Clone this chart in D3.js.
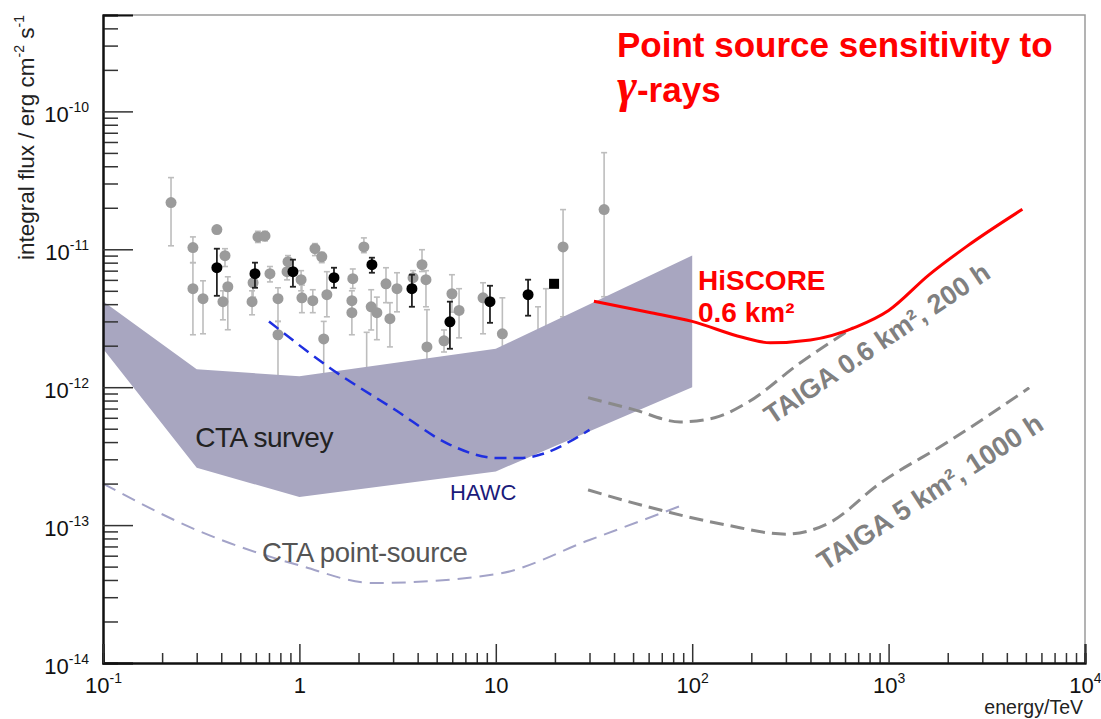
<!DOCTYPE html>
<html><head><meta charset="utf-8">
<script src="https://cdn.jsdelivr.net/npm/d3@7"></script>
<style>
body{margin:0;background:#fff;}
svg{display:block;font-family:Arial,"Liberation Sans",sans-serif;}
</style></head>
<body><svg id="c" width="1101" height="719"></svg>
<script>
// ---- data ----
const xMajor = [0.1, 1, 10, 100, 1000, 10000];
const xMajorLabels = [["10","-1"],["1",""],["10",""],["10","2"],["10","3"],["10","4"]];
const yMajor = [1e-14, 1e-13, 1e-12, 1e-11, 1e-10];
const yMajorLabels = [["10","-14"],["10","-13"],["10","-12"],["10","-11"],["10","-10"]];

// CTA survey band
const surveyE   = [0.1, 0.3, 1, 10, 100];
const surveyHi  = [4.2e-12, 1.35e-12, 1.2e-12, 1.9e-12, 9.0e-12];
const surveyLo  = [1.9e-12, 2.6e-13, 1.6e-13, 2.45e-13, 1.0e-12];

// CTA point-source
const ctaPsE = [0.1, 0.3, 1, 2.4, 10, 30, 90];
const ctaPsF = [2.0e-13, 9.2e-14, 5.1e-14, 3.8e-14, 4.4e-14, 7.8e-14, 1.4e-13];

// HAWC
const hawcE = [0.7, 1.43, 3.07, 5.85, 10, 13.3, 30];
const hawcF = [3.0e-12, 1.38e-12, 6.86e-13, 3.82e-13, 3.07e-13, 3.07e-13, 4.9e-13];

// HiSCORE 0.6 km2
const hiscoreE = [31.6, 60, 100, 180, 250, 400, 690, 1000, 1600, 2500, 4800];
const hiscoreF = [4.2e-12, 3.5e-12, 3.0e-12, 2.3e-12, 2.1e-12, 2.2e-12, 2.75e-12, 3.6e-12, 6.5e-12, 1.05e-11, 1.95e-11];

// TAIGA 0.6 km2, 200 h
const taiga06E = [29.5, 50, 87, 130, 190, 354, 660];
const taiga06F = [8.4e-13, 6.9e-13, 5.6e-13, 6.0e-13, 7.7e-13, 1.5e-12, 2.7e-12];

// TAIGA 5 km2, 1000 h
const taiga5E = [29.5, 59, 150, 300, 500, 900, 2000, 5200];
const taiga5F = [1.8e-13, 1.36e-13, 1.0e-13, 8.6e-14, 1.04e-13, 2.0e-13, 4.0e-13, 9.9e-13];

// measured sources (gray)
const grayE  = [0.222,0.287,0.287,0.323,0.380,0.418,0.432,0.408,0.615,0.668,0.581,0.574,0.708,0.778,0.778,0.875,0.865,1.02,1.03,1.20,1.30,1.17,1.38,1.33,1.87,1.85,1.85,2.13,2.32,2.48,2.76,2.89,3.14,3.79,4.21,4.41,4.46,5.98,5.45,6.5,8.61,10.8,22.0,35.6,2.2,16.4,18.0];
const grayF  = [2.18e-11,1.03e-11,5.18e-12,4.38e-12,1.39e-11,8.99e-12,5.35e-12,4.17e-12,1.23e-11,1.25e-11,5.72e-12,4.17e-12,6.65e-12,4.38e-12,2.40e-12,8.13e-12,6.88e-12,6.02e-12,4.45e-12,1.01e-11,8.83e-12,4.24e-12,4.69e-12,2.24e-12,6.12e-12,4.24e-12,3.47e-12,1.04e-11,3.83e-12,3.47e-12,5.62e-12,3.14e-12,5.18e-12,6.22e-12,7.73e-12,6.02e-12,1.96e-12,4.76e-12,2.17e-12,3.6e-12,4.45e-12,2.44e-12,1.04e-11,1.94e-11,1.05e-12,2.3e-12,2.5e-12];
const grayLo = [1.06e-11,8.0e-12,2.40e-12,2.44e-12,1.30e-11,7.5e-12,2.61e-12,3.08e-12,1.12e-11,1.15e-11,4.5e-12,3.35e-12,5.8e-12,3.0e-12,1.19e-12,7.3e-12,6.0e-12,5.0e-12,3.47e-12,9.0e-12,8.0e-12,3.47e-12,3.24e-12,1.12e-12,5.2e-12,3.5e-12,2.40e-12,9.45e-12,2.6e-12,2.21e-12,4.1e-12,1.96e-12,3.52e-12,5.5e-12,6.9e-12,3.83e-12,1.0e-12,3.5e-12,1.8e-12,2.28e-12,2.44e-12,1.9e-12,3.24e-12,4.53e-12,1.0e-12,2.3e-12,2.5e-12];
const grayHi = [3.31e-11,1.23e-11,8.0e-12,5.91e-12,1.48e-11,1.01e-11,6.32e-12,5.0e-12,1.35e-11,1.35e-11,7.0e-12,5.0e-12,7.5e-12,5.26e-12,3.0e-12,9.0e-12,7.8e-12,7.0e-12,5.5e-12,1.1e-11,9.5e-12,5.09e-12,6.88e-12,3.0e-12,7.2e-12,5.0e-12,4.2e-12,1.21e-11,5.09e-12,4.5e-12,7.35e-12,4.1e-12,6.76e-12,7.0e-12,9.93e-12,7.0e-12,3.65e-12,6.54e-12,2.6e-12,5.18e-12,5.72e-12,4.45e-12,1.94e-11,5.02e-11,2.5e-12,3.83e-12,5.18e-12];

// measured sources (black)
const blackE  = [0.380,0.594,0.927,1.50,2.34,3.74,5.84,9.34,14.6];
const blackF  = [7.35e-12,6.65e-12,6.88e-12,6.22e-12,7.73e-12,5.18e-12,2.98e-12,4.17e-12,4.69e-12];
const blackLo = [4.60e-12,5.26e-12,5.35e-12,5.26e-12,6.76e-12,3.83e-12,1.9e-12,2.93e-12,3.30e-12];
const blackHi = [1.01e-11,8.0e-12,8.41e-12,7.35e-12,8.69e-12,6.54e-12,4.17e-12,5.44e-12,6.02e-12];
const squareE = [19.8];
const squareF = [5.62e-12];

// ---- chart ----
const L = 103, R = 1085, T = 15, B = 663;
const svg = d3.select("#c");
const x = d3.scaleLog().domain([0.1, 1e4]).range([L, R]);
const y = d3.scaleLog().domain([1e-14, 5e-10]).range([B, T]);

const minorOf = (majors, top) => {
  const out = [];
  majors.forEach(d => { for (let k = 2; k <= 9; k++) { const v = d * k; if (v <= top) out.push(v); } });
  return out;
};
const xMinor = minorOf(xMajor.slice(0, -1), 1e4);
const yMinor = minorOf([1e-14,1e-13,1e-12,1e-11,1e-10], 5e-10);

// frame (top/right gray)
svg.append("path").attr("d", `M${L},${T}H${R}V${B}`).attr("fill","none").attr("stroke","#9a9a9a").attr("stroke-width",1.5);

// points
const gPts = svg.append("g");
function errBars(E, Lo, Hi, color, w) {
  E.forEach((e, i) => {
    const cx = x(e);
    gPts.append("line").attr("x1",cx).attr("x2",cx).attr("y1",y(Lo[i])).attr("y2",y(Hi[i])).attr("stroke",color).attr("stroke-width",w);
    [Lo[i], Hi[i]].forEach(v => gPts.append("line").attr("x1",cx-3).attr("x2",cx+3).attr("y1",y(v)).attr("y2",y(v)).attr("stroke",color).attr("stroke-width",w));
  });
}
errBars(grayE, grayLo, grayHi, "#bdbdbd", 1.6);
gPts.selectAll("circle.g").data(grayE).join("circle").attr("class","g")
  .attr("cx", d => x(d)).attr("cy", (d,i) => y(grayF[i])).attr("r", 5.5).attr("fill", "#9b9b9b");
errBars(blackE, blackLo, blackHi, "#222", 1.8);
gPts.selectAll("circle.b").data(blackE).join("circle").attr("class","b")
  .attr("cx", d => x(d)).attr("cy", (d,i) => y(blackF[i])).attr("r", 5.5).attr("fill", "#000");
gPts.selectAll("rect.sq").data(squareE).join("rect").attr("class","sq")
  .attr("x", d => x(d)-5).attr("y", (d,i) => y(squareF[i])-5).attr("width",10).attr("height",10).attr("fill","#000");

// CTA survey band
const band = surveyE.map((e,i)=>[e, surveyHi[i]]).concat(surveyE.map((e,i)=>[e, surveyLo[i]]).reverse());
svg.append("path").attr("d", d3.line().x(d=>x(d[0])).y(d=>y(d[1]))(band) + "Z").attr("fill","#a8a6c0");

const curve = (E, F) => d3.line().curve(d3.curveMonotoneX).x(d=>x(d)).y((d,i)=>y(F[i]))(E);
svg.append("path").attr("d", curve(ctaPsE, ctaPsF)).attr("fill","none").attr("stroke","#a3a3c8").attr("stroke-width",2).attr("stroke-dasharray","14,8");
svg.append("path").attr("d", curve(hawcE, hawcF)).attr("fill","none").attr("stroke","#1f2fe0").attr("stroke-width",2.5).attr("stroke-dasharray","12,7");
svg.append("path").attr("d", curve(taiga06E, taiga06F)).attr("fill","none").attr("stroke","#8a8a8a").attr("stroke-width",3).attr("stroke-dasharray","14,7");
svg.append("path").attr("d", curve(taiga5E, taiga5F)).attr("fill","none").attr("stroke","#8a8a8a").attr("stroke-width",3).attr("stroke-dasharray","14,7");
svg.append("path").attr("d", curve(hiscoreE, hiscoreF)).attr("fill","none").attr("stroke","#ff0000").attr("stroke-width",3);

// axes
function styleAxis(g){ g.select(".domain").attr("stroke","#111").attr("stroke-width",2); g.selectAll(".tick line").attr("stroke","#333").attr("stroke-width",1.5); }
svg.append("g").attr("transform",`translate(${L},0)`)
  .call(d3.axisLeft(y).tickValues(yMinor).tickSize(-15).tickFormat("")).call(styleAxis);
const yAx = svg.append("g").attr("transform",`translate(${L},0)`)
  .call(d3.axisLeft(y).tickValues(yMajor).tickSize(-30).tickPadding(14).tickFormat("")).call(styleAxis);
svg.append("g").attr("transform",`translate(0,${B})`)
  .call(d3.axisBottom(x).tickValues(xMinor).tickSize(-10).tickFormat("")).call(styleAxis);
const xAx = svg.append("g").attr("transform",`translate(0,${B})`)
  .call(d3.axisBottom(x).tickValues(xMajor).tickSize(-19).tickFormat("")).call(styleAxis);

yAx.selectAll(".tick").each(function(d,i){
  const t = d3.select(this).select("text").attr("x",-14).attr("dy",null).attr("y",10)
    .attr("fill","#111").attr("font-size",22).attr("text-anchor","end").attr("font-family","Arial,'Liberation Sans',sans-serif");
  t.text(null);
  t.append("tspan").text(yMajorLabels[i][0]);
  t.append("tspan").attr("font-size",14).attr("dy",-10).text(yMajorLabels[i][1]);
});
xAx.selectAll(".tick").each(function(d,i){
  const t = d3.select(this).select("text").attr("y",30).attr("dy",null)
    .attr("fill","#111").attr("font-size",22).attr("text-anchor","middle").attr("font-family","Arial,'Liberation Sans',sans-serif");
  t.text(null);
  t.append("tspan").text(xMajorLabels[i][0]);
  if (xMajorLabels[i][1]) t.append("tspan").attr("font-size",14).attr("dy",-10).text(xMajorLabels[i][1]);
});

// axis titles
const yt = svg.append("text").attr("transform","translate(34,15) rotate(-90)").attr("text-anchor","end")
  .attr("font-size",22.5).attr("fill","#222");
yt.append("tspan").text("integral flux / erg cm");
yt.append("tspan").attr("font-size",14).attr("dy",-10).text("-2");
yt.append("tspan").attr("dy",10).text(" s");
yt.append("tspan").attr("font-size",14).attr("dy",-10).text("-1");

svg.append("text").attr("x",1083).attr("y",714).attr("text-anchor","end").attr("font-size",19.5).attr("fill","#222").text("energy/TeV");

// title
svg.append("text").attr("x",617).attr("y",57).attr("font-size",35).attr("font-weight","bold").attr("fill","#ff0000").text("Point source sensitivity to");
const t2 = svg.append("text").attr("x",617).attr("y",102).attr("font-size",35).attr("font-weight","bold").attr("fill","#ff0000");
t2.append("tspan").attr("font-family","'Liberation Serif','DejaVu Serif',serif").attr("font-style","italic").attr("font-size",48).text("γ");
t2.append("tspan").text("-rays");

// curve labels
svg.append("text").attr("x",x(0.295)).attr("y",y(3.7e-13)).attr("font-size",28).attr("fill","#222").attr("letter-spacing",-0.5).text("CTA survey");
svg.append("text").attr("x",x(5.85)).attr("y",y(1.52e-13)).attr("font-size",22).attr("fill","#1a1a7a").text("HAWC");
svg.append("text").attr("x",x(0.645)).attr("y",y(5.4e-14)).attr("font-size",27.5).attr("fill","#555").attr("letter-spacing",-0.3).text("CTA point-source");
svg.append("text").attr("x",x(107)).attr("y",y(5.09e-12)).attr("font-size",28).attr("font-weight","bold").attr("fill","#ff0000").text("HiSCORE");
svg.append("text").attr("x",x(107)).attr("y",y(2.98e-12)).attr("font-size",28).attr("font-weight","bold").attr("fill","#ff0000").text("0.6 km²");
svg.append("text").attr("transform",`translate(${x(255)},${y(5.3e-13)}) rotate(-34)`).attr("font-size",27).attr("font-weight","bold").attr("fill","#808080").text("TAIGA 0.6 km², 200 h");
svg.append("text").attr("transform",`translate(${x(474)},${y(4.6e-14)}) rotate(-33)`).attr("font-size",27.5).attr("font-weight","bold").attr("fill","#808080").text("TAIGA 5 km², 1000 h");
</script></body></html>
